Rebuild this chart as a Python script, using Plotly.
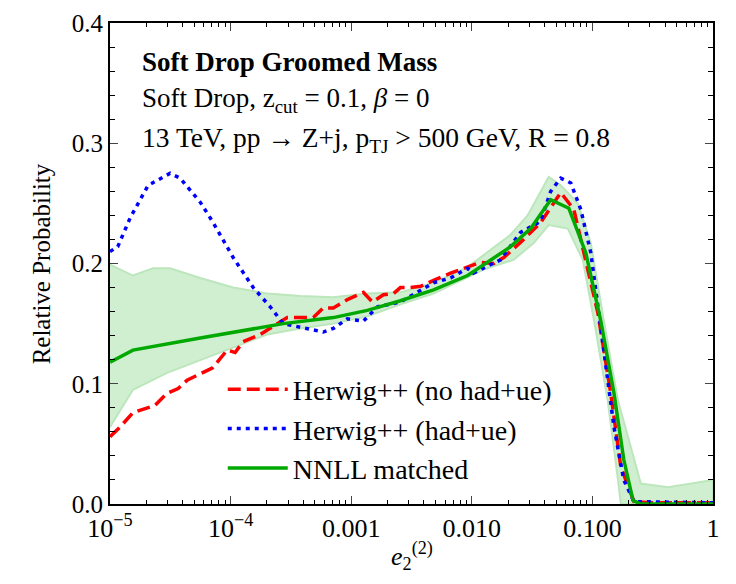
import plotly.graph_objects as go

# ---------------- data ----------------
nnll_x = [1.00e-5, 1.55e-5, 5.6e-5, 2.73e-4, 7.11e-4, 1.36e-3, 2.56e-3, 4.82e-3, 9.23e-3,
          2.10e-2, 3.07e-2, 4.51e-2, 6.37e-2, 8.81e-2, 0.117, 0.151, 0.182, 0.217, 0.25, 1.0]
nnll_y = [0.118, 0.128, 0.138, 0.150, 0.155, 0.161, 0.169, 0.178, 0.190,
          0.214, 0.229, 0.253, 0.246, 0.209, 0.153, 0.092, 0.037, 0.003, 0.0, 0.0]

band_up_x = [1e-5, 1.55e-5, 2.28e-5, 3.15e-5, 5.6e-5, 1.05e-4, 2.01e-4, 3.78e-4, 7.11e-4,
             1.36e-3, 2.56e-3, 4.82e-3, 9.23e-3, 2.10e-2, 2.90e-2, 4.34e-2, 5.46e-2,
             7.56e-2, 9.70e-2, 0.124, 0.163, 0.221, 0.252, 0.423, 0.962, 1.0]
band_up_y = [0.199, 0.190, 0.196, 0.196, 0.188, 0.180, 0.175, 0.173, 0.172,
             0.175, 0.176, 0.184, 0.197, 0.224, 0.240, 0.272, 0.265,
             0.250, 0.217, 0.153, 0.086, 0.037, 0.017, 0.014, 0.020, 0.020]
band_lo_x = [1e-5, 1.55e-5, 2.97e-5, 5.6e-5, 1.05e-4, 2.01e-4, 3.78e-4, 7.11e-4, 1.36e-3,
             2.56e-3, 4.82e-3, 1.25e-2, 2.22e-2, 3.26e-2, 4.34e-2, 6.25e-2, 8.32e-2,
             0.103, 0.134, 0.163, 0.172, 1.0]
band_lo_y = [0.064, 0.095, 0.109, 0.120, 0.130, 0.141, 0.146, 0.150, 0.156,
             0.166, 0.175, 0.195, 0.203, 0.217, 0.232, 0.229, 0.203,
             0.153, 0.086, 0.020, 0.0, 0.0]

red_x = [1.00e-5, 1.21e-5, 1.55e-5, 2.36e-5, 2.97e-5, 3.67e-5, 4.36e-5, 7.04e-5, 9.37e-5,
         1.09e-4, 1.27e-4, 1.76e-4, 2.44e-4, 2.95e-4, 3.78e-4, 4.85e-4, 5.87e-4, 7.11e-4,
         9.29e-4, 1.26e-3, 1.50e-3, 1.85e-3, 2.24e-3, 2.56e-3, 3.10e-3, 3.76e-3, 4.82e-3,
         6.67e-3, 1.18e-2, 1.52e-2, 1.84e-2, 2.69e-2, 3.72e-2, 4.51e-2, 5.46e-2, 7.01e-2,
         8.81e-2, 0.111, 0.142, 0.172, 0.221, 0.3, 0.5, 1.0]
red_y = [0.056, 0.064, 0.076, 0.082, 0.092, 0.096, 0.103, 0.113, 0.128,
         0.126, 0.135, 0.141, 0.150, 0.155, 0.155, 0.155, 0.163, 0.163,
         0.170, 0.176, 0.168, 0.174, 0.175, 0.180, 0.180, 0.181, 0.186,
         0.192, 0.201, 0.200, 0.205, 0.220, 0.234, 0.247, 0.259, 0.245,
         0.203, 0.159, 0.092, 0.031, 0.002, 0.001, 0.001, 0.001]

blue_x = [1.0e-5, 1.16e-5, 1.47e-5, 2.07e-5, 3.15e-5, 3.81e-5, 5.6e-5, 7.17e-5, 1.05e-4,
          1.54e-4, 2.13e-4, 2.73e-4, 3.78e-4, 5.87e-4, 7.11e-4, 9.29e-4, 1.26e-3, 1.65e-3,
          2.56e-3, 3.55e-3, 4.82e-3, 6.67e-3, 9.23e-3, 1.03e-2, 1.73e-2, 2.54e-2, 3.72e-2,
          4.51e-2, 5.46e-2, 6.62e-2, 8.01e-2, 9.70e-2, 0.117, 0.151, 0.182, 0.221, 1.0]
blue_y = [0.210, 0.214, 0.238, 0.265, 0.275, 0.271, 0.251, 0.234, 0.205,
          0.180, 0.164, 0.150, 0.147, 0.143, 0.146, 0.154, 0.152, 0.164,
          0.168, 0.176, 0.184, 0.188, 0.196, 0.192, 0.203, 0.226, 0.235,
          0.260, 0.271, 0.267, 0.245, 0.209, 0.147, 0.064, 0.020, 0.002, 0.001]

x_tick_vals = [1e-5, 1e-4, 1e-3, 1e-2, 1e-1, 1]
x_tick_text = ["10<sup>−5</sup>", "10<sup>−4</sup>", "0.001", "0.010", "0.100", "1"]
y_tick_vals = [0.0, 0.1, 0.2, 0.3, 0.4]
y_tick_text = ["0.0", "0.1", "0.2", "0.3", "0.4"]

FONT = "Liberation Serif, Times New Roman, serif"
TXT = 27

fig = go.Figure()

# uncertainty band as closed polygon
fig.add_trace(go.Scatter(
    x=band_up_x + band_lo_x[::-1], y=band_up_y + band_lo_y[::-1],
    mode="lines", fill="toself", fillcolor="rgba(208,239,208,1)",
    line=dict(color="rgba(188,230,188,1)", width=2), showlegend=False, hoverinfo="skip"))

fig.add_trace(go.Scatter(x=red_x, y=red_y, mode="lines", name="Herwig++ (no had+ue)",
                         line=dict(color="#ff0000", width=3.5, dash="13px,6px")))
fig.add_trace(go.Scatter(x=blue_x, y=blue_y, mode="lines", name="Herwig++ (had+ue)",
                         line=dict(color="#0000ff", width=3.5, dash="4px,5px")))
fig.add_trace(go.Scatter(x=nnll_x, y=nnll_y, mode="lines", name="NNLL matched",
                         line=dict(color="#00a800", width=3.5)))

fig.update_layout(
    width=728, height=576,
    margin=dict(l=102, r=23, t=15, b=80, autoexpand=False),
    paper_bgcolor="white", plot_bgcolor="white",
    font=dict(family=FONT, size=TXT, color="black"),
    legend=dict(x=0.187, y=0.29, xanchor="left", yanchor="top",
                bgcolor="rgba(0,0,0,0)", font=dict(family=FONT, size=28),
                itemwidth=60, tracegroupgap=0),
    xaxis=dict(type="log", range=[-5, 0], tickmode="array", tickvals=x_tick_vals,
               ticktext=x_tick_text, ticks="inside", ticklen=8, tickwidth=1,
               showline=True, linewidth=2, linecolor="black", mirror="ticks",
               showgrid=False, zeroline=False, automargin=False,
               tickfont=dict(family=FONT, size=26),
               minor=dict(dtick="D1", ticks="inside", ticklen=4, tickwidth=1,
                          tickcolor="black", showgrid=False)),
    yaxis=dict(range=[0, 0.4], tickmode="array", tickvals=y_tick_vals, ticktext=y_tick_text,
               ticks="inside", ticklen=8, tickwidth=1,
               showline=True, linewidth=2, linecolor="black", mirror="ticks",
               showgrid=False, zeroline=False, automargin=False,
               tickfont=dict(family=FONT, size=25),
               minor=dict(dtick=0.02, ticks="inside", ticklen=5, tickwidth=1,
                          tickcolor="black", showgrid=False)),
    annotations=[
        dict(text="<b>Soft Drop Groomed Mass</b>", xref="paper", yref="paper",
             x=0.05, y=0.919, xanchor="left", yanchor="middle", showarrow=False,
             font=dict(size=TXT)),
        dict(text="Soft Drop, z<sub>cut</sub> = 0.1, <i>β</i> = 0", xref="paper", yref="paper",
             x=0.05, y=0.840, xanchor="left", yanchor="middle", showarrow=False,
             font=dict(size=TXT)),
        dict(text="13 TeV, pp → Z+j, p<sub>TJ</sub> > 500 GeV, R = 0.8", xref="paper",
             yref="paper", x=0.05, y=0.757, xanchor="left", yanchor="middle",
             showarrow=False, font=dict(size=27.5)),
        dict(text="Relative Probability", xref="paper", yref="paper", x=-0.113, y=0.5,
             xanchor="center", yanchor="middle", textangle=-90, showarrow=False,
             font=dict(size=25)),
        dict(text="<i>e</i><sub>2</sub><sup>(2)</sup>", xref="paper", yref="paper",
             x=0.5, y=-0.108, xanchor="center", yanchor="middle", showarrow=False,
             font=dict(size=26)),
    ],
)

fig.write_html("out.html")
